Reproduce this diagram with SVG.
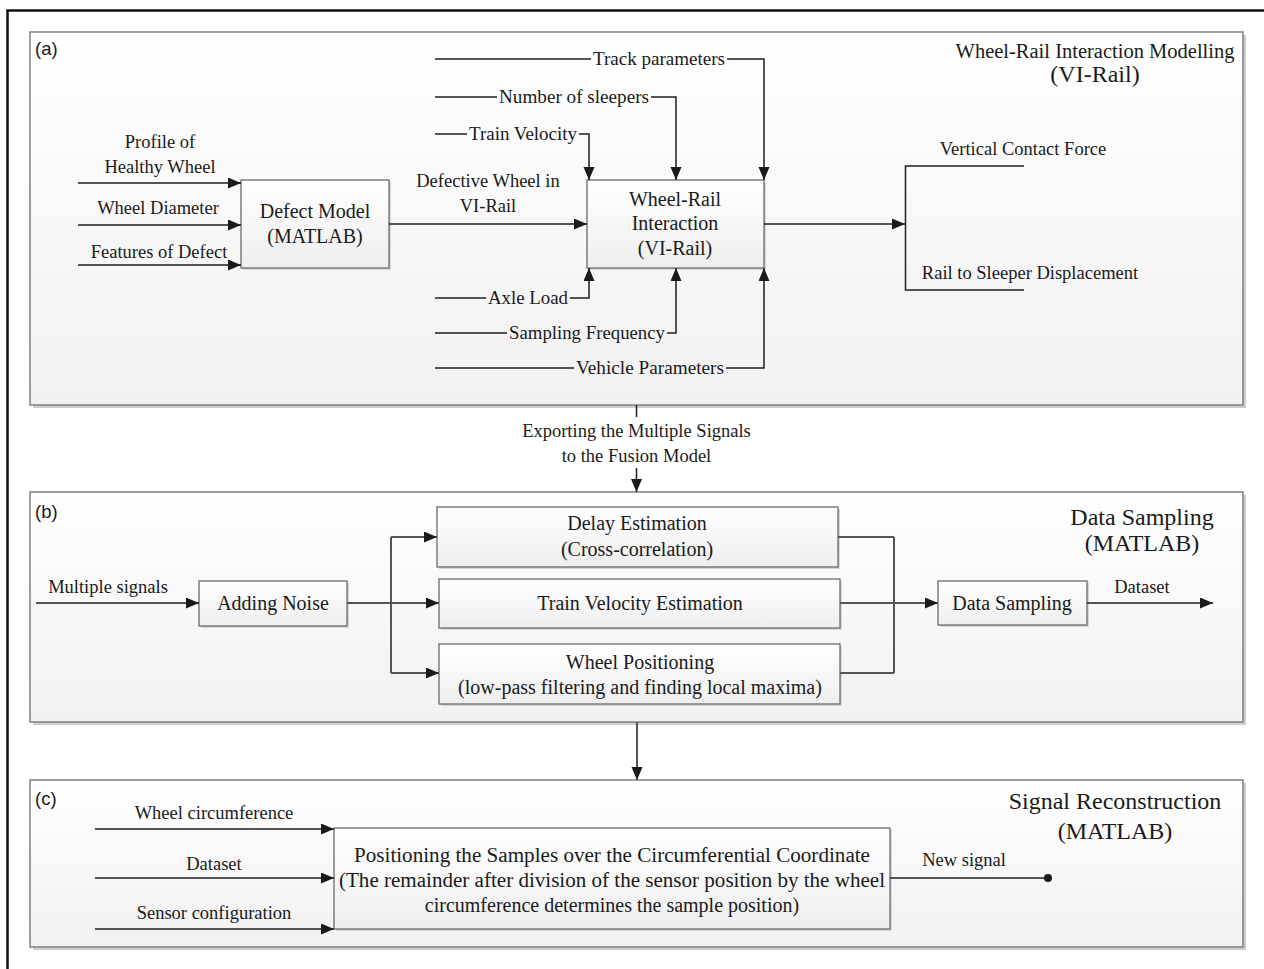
<svg xmlns="http://www.w3.org/2000/svg" width="1264" height="969" viewBox="0 0 1264 969">
<defs>
<linearGradient id="pg" x1="0" y1="0" x2="0" y2="1"><stop offset="0" stop-color="#ffffff"/><stop offset="1" stop-color="#f1f1f1"/></linearGradient>
<linearGradient id="bg" x1="0" y1="0" x2="0" y2="1"><stop offset="0" stop-color="#ffffff"/><stop offset="1" stop-color="#eeeeee"/></linearGradient>
<marker id="ah" markerUnits="userSpaceOnUse" markerWidth="14" markerHeight="12" refX="13" refY="5.5" orient="auto"><path d="M0,0 L13,5.5 L0,11 z" fill="#1a1a1a"/></marker>
<style>
.panel{fill:url(#pg);stroke:#808080;stroke-width:1.5}
.psh{fill:#cdcdcd}
.box{fill:url(#bg);stroke:#6a6a6a;stroke-width:1.3}
.bsh{fill:#d6d6d6}
.ln{fill:none;stroke:#1e1e1e;stroke-width:1.5}
.lg{fill:none;stroke:#555;stroke-width:2}
.arr{marker-end:url(#ah)}
.t{font-family:"Liberation Serif","Times New Roman",serif;fill:#1a1a1a}
.lbl{font-size:18.5px;text-anchor:middle}
.bx{font-size:20px;text-anchor:middle}
.ttl{font-size:24px;text-anchor:middle}
.pl{font-family:"Liberation Sans",Arial,sans-serif;font-size:18.5px;fill:#1a1a1a}
</style>
</defs>
<rect width="1264" height="969" fill="#ffffff"/>
<path d="M1264,10.5 H7.5 V969" fill="none" stroke="#111" stroke-width="2.5"/>

<!-- Panels -->
<g id="panel-a">
<rect class="psh" x="33" y="35" width="1213" height="373"/>
<rect class="panel" x="30" y="32" width="1213" height="373"/>
<text class="pl" x="35" y="55">(a)</text>
<text class="t" x="1095" y="58" font-size="20.5" text-anchor="middle">Wheel-Rail Interaction Modelling</text>
<text class="t ttl" x="1095" y="82">(VI-Rail)</text>
</g>
<g id="panel-b">
<rect class="psh" x="33" y="495" width="1213" height="230"/>
<rect class="panel" x="30" y="492" width="1213" height="230"/>
<text class="pl" x="35" y="518">(b)</text>
<text class="t ttl" x="1142" y="525">Data Sampling</text>
<text class="t ttl" x="1142" y="551">(MATLAB)</text>
</g>
<g id="panel-c">
<rect class="psh" x="33" y="783" width="1213" height="167"/>
<rect class="panel" x="30" y="780" width="1213" height="167"/>
<text class="pl" x="35" y="805">(c)</text>
<text class="t ttl" x="1115" y="809">Signal Reconstruction</text>
<text class="t ttl" x="1115" y="839">(MATLAB)</text>
</g>

<!-- Nodes -->
<g id="defect-model">
<rect class="bsh" x="243" y="182" width="148" height="88"/>
<rect class="box" x="241" y="180" width="148" height="88"/>
<text class="t bx" x="315" y="218">Defect Model</text>
<text class="t bx" x="315" y="243">(MATLAB)</text>
</g>
<g id="wheel-rail">
<rect class="bsh" x="589" y="182" width="177" height="88"/>
<rect class="box" x="587" y="180" width="177" height="88"/>
<text class="t bx" x="675" y="206">Wheel-Rail</text>
<text class="t bx" x="675" y="230">Interaction</text>
<text class="t bx" x="675" y="255">(VI-Rail)</text>
</g>
<g id="adding-noise">
<rect class="bsh" x="201" y="583" width="148" height="45"/>
<rect class="box" x="199" y="581" width="148" height="45"/>
<text class="t bx" x="273" y="610">Adding Noise</text>
</g>
<g id="delay-estimation">
<rect class="bsh" x="439" y="509" width="401" height="60"/>
<rect class="box" x="437" y="507" width="401" height="60"/>
<text class="t bx" x="637" y="530">Delay Estimation</text>
<text class="t bx" x="637" y="556">(Cross-correlation)</text>
</g>
<g id="train-velocity-estimation">
<rect class="bsh" x="441" y="581" width="401" height="49"/>
<rect class="box" x="439" y="579" width="401" height="49"/>
<text class="t bx" x="640" y="610">Train Velocity Estimation</text>
</g>
<g id="wheel-positioning">
<rect class="bsh" x="441" y="646" width="401" height="60"/>
<rect class="box" x="439" y="644" width="401" height="60"/>
<text class="t bx" x="640" y="669">Wheel Positioning</text>
<text class="t bx" x="640" y="694">(low-pass filtering and finding local maxima)</text>
</g>
<g id="data-sampling">
<rect class="bsh" x="940" y="583" width="149" height="44"/>
<rect class="box" x="938" y="581" width="149" height="44"/>
<text class="t bx" x="1012" y="610">Data Sampling</text>
</g>
<g id="positioning">
<rect class="bsh" x="336" y="830" width="556" height="101"/>
<rect class="box" x="334" y="828" width="556" height="101"/>
<text class="t bx" x="612" y="862" textLength="516" lengthAdjust="spacingAndGlyphs">Positioning the Samples over the Circumferential Coordinate</text>
<text class="t bx" x="612" y="887" textLength="546" lengthAdjust="spacingAndGlyphs">(The remainder after division of the sensor position by the wheel</text>
<text class="t bx" x="612" y="912">circumference determines the sample position)</text>
</g>

<!-- Connectors -->
<g id="connectors">
<path class="ln arr" d="M78,183 H241"/>
<path class="ln arr" d="M78,225 H241"/>
<path class="ln arr" d="M78,265 H241"/>
<path class="ln arr" d="M389,224 H587"/>
<path class="ln" d="M435,59 H591"/>
<path class="ln arr" d="M727,59 H764 V180"/>
<path class="ln" d="M435,97 H497"/>
<path class="ln arr" d="M651,97 H676 V180"/>
<path class="ln" d="M435,134 H467"/>
<path class="ln arr" d="M579,134 H589 V180"/>
<path class="ln" d="M435,298 H486"/>
<path class="ln arr" d="M570,298 H589 V268"/>
<path class="ln" d="M435,333 H507"/>
<path class="ln arr" d="M667,333 H676 V268"/>
<path class="ln" d="M435,368 H574"/>
<path class="ln arr" d="M726,368 H764 V268"/>
<path class="ln arr" d="M764,224 H905"/>
<path class="ln" d="M1024,166 H905.5 V290 H1024"/>
<path class="ln" d="M636.5,405 V417"/>
<path class="ln arr" d="M636.5,468 V492"/>
<path class="ln arr" d="M36,603 H199"/>
<path class="lg" d="M347,603 H391"/>
<path class="lg" d="M391,537 V673"/>
<path class="lg arr" d="M391,537 H437"/>
<path class="lg arr" d="M391,603 H439"/>
<path class="lg arr" d="M391,673 H439"/>
<path class="lg" d="M838,537 H894 M840,603 H894 M840,673 H894 M894,537 V673"/>
<path class="lg arr" d="M894,603 H938"/>
<path class="ln arr" d="M1087,603 H1213"/>
<path class="lg arr" d="M637,722 V780"/>
<path class="ln arr" d="M95,829 H334"/>
<path class="ln arr" d="M95,878 H334"/>
<path class="ln arr" d="M95,929 H334"/>
<path class="ln" d="M890,878 H1048"/>
<circle cx="1048" cy="878" r="4" fill="#1a1a1a"/>
</g>

<!-- Connector labels -->
<g id="labels">
<text class="t lbl" x="160" y="148">Profile of</text>
<text class="t lbl" x="160" y="173">Healthy Wheel</text>
<text class="t lbl" x="158" y="214">Wheel Diameter</text>
<text class="t lbl" x="159" y="258">Features of Defect</text>
<text class="t lbl" x="488" y="187">Defective Wheel in</text>
<text class="t lbl" x="488" y="212">VI-Rail</text>
<text class="t lbl" x="659" y="65" textLength="132" lengthAdjust="spacingAndGlyphs">Track parameters</text>
<text class="t lbl" x="574" y="103" textLength="150" lengthAdjust="spacingAndGlyphs">Number of sleepers</text>
<text class="t lbl" x="523" y="140" textLength="108" lengthAdjust="spacingAndGlyphs">Train Velocity</text>
<text class="t lbl" x="528" y="304" textLength="80" lengthAdjust="spacingAndGlyphs">Axle Load</text>
<text class="t lbl" x="587" y="339" textLength="156" lengthAdjust="spacingAndGlyphs">Sampling Frequency</text>
<text class="t lbl" x="650" y="374" textLength="148" lengthAdjust="spacingAndGlyphs">Vehicle Parameters</text>
<text class="t lbl" x="1023" y="155">Vertical Contact Force</text>
<text class="t lbl" x="1030" y="279">Rail to Sleeper Displacement</text>
<text class="t lbl" x="636.5" y="437">Exporting the Multiple Signals</text>
<text class="t lbl" x="636.5" y="462">to the Fusion Model</text>
<text class="t lbl" x="108" y="593">Multiple signals</text>
<text class="t lbl" x="1142" y="593">Dataset</text>
<text class="t lbl" x="214" y="819">Wheel circumference</text>
<text class="t lbl" x="214" y="870">Dataset</text>
<text class="t lbl" x="214" y="919">Sensor configuration</text>
<text class="t lbl" x="964" y="866">New signal</text>
</g>
</svg>
